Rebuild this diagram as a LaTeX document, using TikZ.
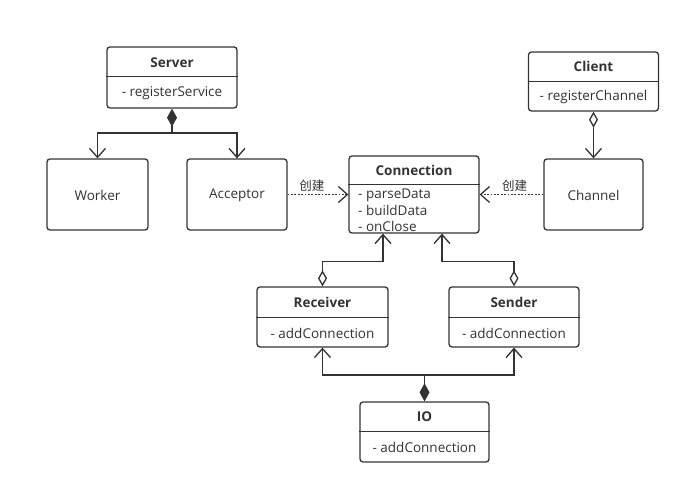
\documentclass[tikz,border=0pt]{standalone}
\usepackage{fontspec}
\setmainfont{Open Sans}
\newfontfamily\cjk{Noto Sans CJK SC}
\usetikzlibrary{arrows.meta,calc}
\definecolor{ink}{HTML}{333333}
\tikzset{
  box/.style={draw=ink, line width=1.3pt, rounded corners=3pt, fill=white, inner sep=0pt},
  ttl/.style={font=\bfseries\fontsize{13.5}{15}\selectfont, text=ink, inner sep=1pt},
  attr/.style={font=\fontsize{13.5}{15}\selectfont, text=ink, inner sep=1pt},
  lbl/.style={font=\cjk\fontsize{12.5}{14}\selectfont, text=ink, inner sep=2pt},
  divider/.style={draw=ink, line width=1.3pt},
  conn/.style={draw=ink, line width=1.3pt},
  barb/.style={-{Straight Barb[length=9pt,width=16pt]}},
  dep/.style={draw=ink, line width=1.6pt, dash pattern=on 1.8pt off 1.6pt, -{Straight Barb[length=9pt,width=16pt,line width=1.3pt]}},
  fdia/.style={{Diamond[length=18pt,width=10pt]}-},
  odiabarb/.style={{Diamond[open,length=16pt,width=9pt]}-{Straight Barb[length=9pt,width=16pt]}}
}
\begin{document}
\begin{tikzpicture}[x=1pt,y=-1pt]
\useasboundingbox[fill=white] (0,0) rectangle (691,494);
% Server
\node[box, minimum width=130pt, minimum height=61pt] (server) at (172,77.5) {};
\draw[divider] ($(server.north west)+(0,30.5)$) -- ($(server.north east)+(0,30.5)$);
\node[ttl] (servert) at (172,62.5) {Server};
\node[attr] (servera) at (172,93) {- registerService};
% Client
\node[box, minimum width=130pt, minimum height=59pt] (client) at (593.5,81.5) {};
\draw[divider] ($(client.north west)+(0,30)$) -- ($(client.north east)+(0,30)$);
\node[ttl] (clientt) at (593.5,66.5) {Client};
\node[attr] (clienta) at (593.5,97) {- registerChannel};
% Worker, Acceptor, Channel
\node[box, minimum width=101pt, minimum height=71pt] (worker) at (97.5,194.5) {};
\node[attr] (workert) at (97.5,195) {Worker};
\node[box, minimum width=100pt, minimum height=71pt] (acceptor) at (237,194.5) {};
\node[attr] (acceptort) at (237,195) {Acceptor};
\node[box, minimum width=99pt, minimum height=71pt] (channel) at (593.5,194.5) {};
\node[attr] (channelt) at (593.5,195) {Channel};
% Connection
\node[box, minimum width=130pt, minimum height=77pt] (connection) at (414,194.5) {};
\draw[divider] ($(connection.north west)+(0,29)$) -- ($(connection.north east)+(0,29)$);
\node[ttl] (connectiont) at (414,170.5) {Connection};
\node[attr, anchor=west] (c1) at (357,195) {- parseData};
\node[attr, anchor=west] (c2) at (357,210.5) {- buildData};
\node[attr, anchor=west] (c3) at (357,226) {- onClose};
% Receiver, Sender
\node[box, minimum width=131pt, minimum height=60pt] (receiver) at (322.5,317) {};
\draw[divider] ($(receiver.north west)+(0,31)$) -- ($(receiver.north east)+(0,31)$);
\node[ttl] (receivert) at (322.5,302.5) {Receiver};
\node[attr] (receivera) at (322.5,333) {- addConnection};
\node[box, minimum width=130pt, minimum height=60pt] (sender) at (514,317) {};
\draw[divider] ($(sender.north west)+(0,31)$) -- ($(sender.north east)+(0,31)$);
\node[ttl] (sendert) at (514,302.5) {Sender};
\node[attr] (sendera) at (514,333) {- addConnection};
% IO
\node[box, minimum width=129pt, minimum height=60pt] (io) at (424.5,432) {};
\draw[divider] ($(io.north west)+(0,30)$) -- ($(io.north east)+(0,30)$);
\node[ttl] (iot) at (424.5,416.5) {IO};
\node[attr] (ioa) at (424.5,447) {- addConnection};
% junctions
\coordinate (sj) at (172,133);
\coordinate (ij) at (424.5,375);
% Server composition
\draw[conn, fdia] (server.south) -- (sj);
\draw[conn, barb] (sj) -| (worker.north);
\draw[conn, barb] (sj) -| (acceptor.north);
% Client aggregation
\draw[conn, odiabarb] (client.south) -- (channel.north);
% dependencies
\draw[dep] (acceptor.east) -- node[lbl, above, pos=0.4] (l1) {创建} (connection.west);
\draw[dep] (channel.west) -- node[lbl, above, pos=0.45] (l2) {创建} (connection.east);
% Receiver / Sender aggregation to Connection
\draw[conn, odiabarb] (receiver.north) -- ++(0,-25) -| ($(connection.south)+(-31,0)$);
\draw[conn, odiabarb] (sender.north) -- ++(0,-25) -| ($(connection.south)+(28,0)$);
% IO composition
\draw[conn, fdia] (io.north) -- (ij);
\draw[conn, barb] (ij) -| (receiver.south);
\draw[conn, barb] (ij) -| (sender.south);
\end{tikzpicture}
\end{document}
